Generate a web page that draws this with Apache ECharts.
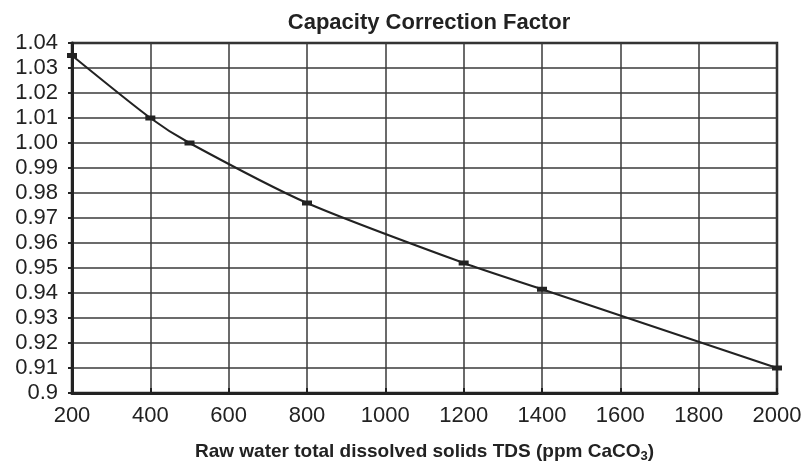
<!DOCTYPE html>
<html>
<head>
<meta charset="utf-8">
<script src="https://cdn.jsdelivr.net/npm/echarts@6/dist/echarts.min.js"></script>
<style>
  html, body { margin: 0; padding: 0; background: #fff; }
  #chart { width: 806px; height: 469px; }
</style>
</head>
<body>
<div id="chart"></div>
<script>
// data
var tds = [200, 400, 500, 800, 1200, 1400, 2000];
var factor = [1.035, 1.010, 1.000, 0.976, 0.952, 0.9415, 0.910];
var yTickLabels = ['0.9', '0.91', '0.92', '0.93', '0.94', '0.95', '0.96', '0.97',
                   '0.98', '0.99', '1.00', '1.01', '1.02', '1.03', '1.04'];

(function () {
    var myChart = echarts.init(document.getElementById('chart'));
    var ink = '#222';
    var font = '"Liberation Sans", Arial, sans-serif';

    var points = tds.map(function (t, i) { return [t, factor[i]]; });

    var option = {
        backgroundColor: '#fff',
        animation: false,
        title: {
            text: 'Capacity Correction Factor',
            left: 424,
            textAlign: 'center',
            top: 7,
            textStyle: { fontFamily: font, fontSize: 22, fontWeight: 'bold', color: ink }
        },
        grid: {
            left: 72,
            right: 29,
            top: 43,
            bottom: 76,
            show: true,
            borderColor: ink,
            borderWidth: 2.5
        },
        xAxis: {
            type: 'value',
            min: 200,
            max: 2000,
            interval: 200,
            axisLine: { lineStyle: { color: ink, width: 3 } },
            axisTick: { inside: true, length: 5, lineStyle: { color: ink, width: 2 } },
            axisLabel: {
                fontFamily: font, fontSize: 22, color: ink, margin: 12,
                formatter: function (v) { return String(v); }
            },
            splitLine: { lineStyle: { color: '#3a3a3a', width: 1.5 } },
            name: '{a|Raw water total dissolved solids TDS (ppm CaCO}{s|3}{a|)}',
            nameLocation: 'middle',
            nameGap: 48,
            nameTextStyle: {
                rich: {
                    a: { fontFamily: font, fontSize: 19, fontWeight: 'bold', color: ink },
                    s: { fontFamily: font, fontSize: 13, fontWeight: 'bold', color: ink, verticalAlign: 'bottom', padding: [9, 0, 0, 0] }
                }
            }
        },
        yAxis: {
            type: 'value',
            min: 0.9,
            max: 1.04,
            interval: 0.01,
            axisLine: { show: true, lineStyle: { color: ink, width: 3 } },
            axisTick: { show: true, length: 4, lineStyle: { color: ink, width: 2 } },
            axisLabel: {
                fontFamily: font, fontSize: 22, color: ink, margin: 14,
                formatter: function (v) {
                    return yTickLabels[Math.round((v - 0.9) / 0.01)];
                }
            },
            splitLine: { lineStyle: { color: '#3a3a3a', width: 1.5 } }
        },
        series: [
            {
                type: 'line',
                data: points,
                smooth: 0.25,
                symbol: 'rect',
                symbolSize: [10, 5],
                itemStyle: { color: ink },
                lineStyle: { color: ink, width: 2 }
            }
        ]
    };

    myChart.setOption(option);

    window.addEventListener('resize', function () {
        myChart.resize();
    });
})();
</script>
</body>
</html>
